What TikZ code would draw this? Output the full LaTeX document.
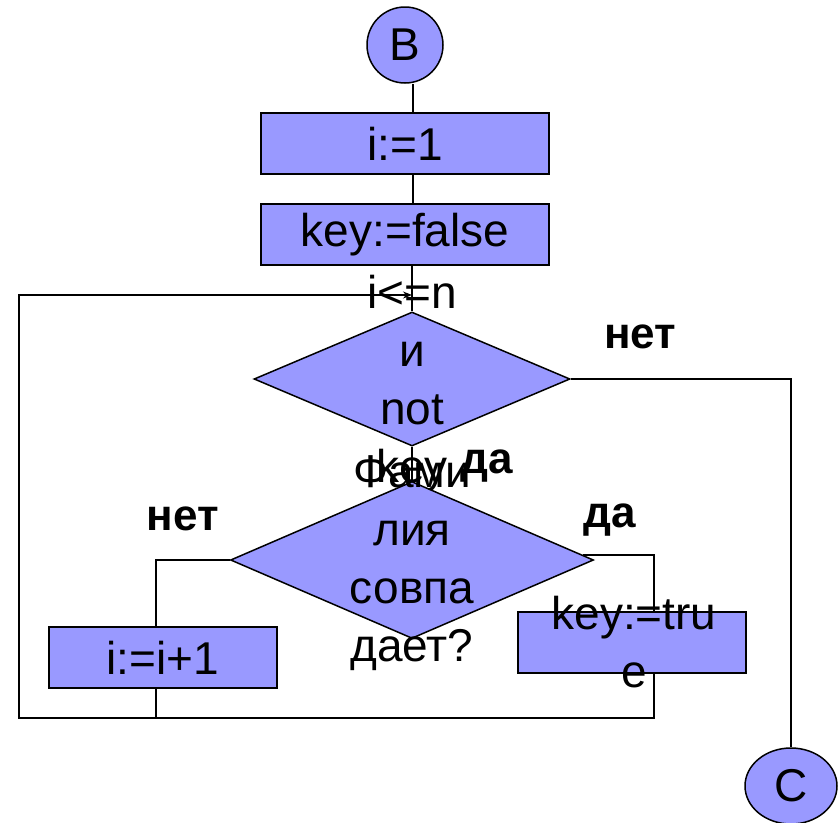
\documentclass[tikz,border=0pt]{standalone}
\usepackage{fontspec}
\setmainfont{Liberation Sans}
\usetikzlibrary{shapes.geometric,arrows.meta,calc}

\definecolor{blockfill}{HTML}{9999FF}
\newcommand{\blocktext}{\fontsize{46}{58}\selectfont}
\newcommand{\answertext}{\fontsize{44}{52}\selectfont\bfseries}

\begin{document}
\begin{tikzpicture}[x=1pt, y=-1pt, line width=1.2pt,
    term/.style={draw=black, line width=1.5pt, fill=blockfill, inner sep=0pt, font=\blocktext},
    proc/.style={rectangle, draw=black, line width=1.5pt, fill=blockfill, minimum width=#1, minimum height=61pt, inner sep=0pt, font=\blocktext},
    cond/.style={diamond, draw=black, line width=1.5pt, fill=blockfill, inner sep=0pt},
    condtext/.style={align=center, inner sep=0pt, font=\blocktext},
    answer/.style={inner sep=0pt, font=\answertext}]

    % Fix the page to the size of the reference
    \useasboundingbox (0,0) rectangle (840,822);

    % Start connector B
    \node[term, circle, minimum size=76pt] (B) at (405,45) {B};

    % The two assignments before the loop
    \node[proc=288pt] (init) at (405,143.5) {i:=1};
    \node[proc=288pt] (keyf) at (405,234.5) {key:=false};

    % Loop condition (the text runs out of the diamond)
    \node[cond, minimum width=316pt, minimum height=134pt] (cond1) at (412,379) {};
    \node[condtext] (cond1txt) at (412,383.5) {i<=n\\и\\not\\key};

    % Comparison of the surname
    \node[cond, minimum width=363pt, minimum height=157pt] (cond2) at (412,560) {};
    \node[condtext] (cond2txt) at (412,563.5) {Фами\\лия\\совпа\\дает?};

    % Branch boxes
    \node[proc=228pt] (inc) at (163,657.5) {i:=i+1};
    \node[proc=228pt] (keyt) at (632,642.5) {};
    \node[condtext] (keyttxt) at (634,642.5) {key:=tru\\e};

    % End connector C
    \node[term, ellipse, minimum width=92pt, minimum height=76pt] (C) at (791,786) {C};

    % Branch labels
    \node[answer, anchor=base] (no1) at (640,348) {нет};
    \node[answer, anchor=base] (yes1) at (487,473) {да};
    \node[answer, anchor=base] (no2) at (183,530) {нет};
    \node[answer, anchor=base] (yes2) at (610,527) {да};

    % Straight flow down the middle
    \draw ([xshift=8pt]B.south) -- ([xshift=8pt]init.north);
    \draw ([xshift=8pt]init.south) -- ([xshift=8pt]keyf.north);
    \draw ([xshift=7pt]keyf.south) -- (cond1.north);
    \draw (cond1.south) -- (cond2.north);

    % Exit of the loop to C
    \draw (cond1.east) -| (C.north);

    % The two branches of the comparison
    \draw (cond2.west) -| ([xshift=-7pt]inc.north);
    \draw ($(cond2.east)+(-11,-5)$) -| ([xshift=22pt]keyt.north);

    % Back to the loop condition
    \coordinate (loopbot) at (19,718);
    \coordinate (entry) at (412,295);
    \draw ([xshift=-7pt]inc.south) -- ([xshift=-7pt]inc.south |- loopbot);
    \draw[-{Stealth[length=9pt,width=7pt]}] ([xshift=22pt]keyt.south) |- (loopbot) |- (entry);

\end{tikzpicture}
\end{document}
